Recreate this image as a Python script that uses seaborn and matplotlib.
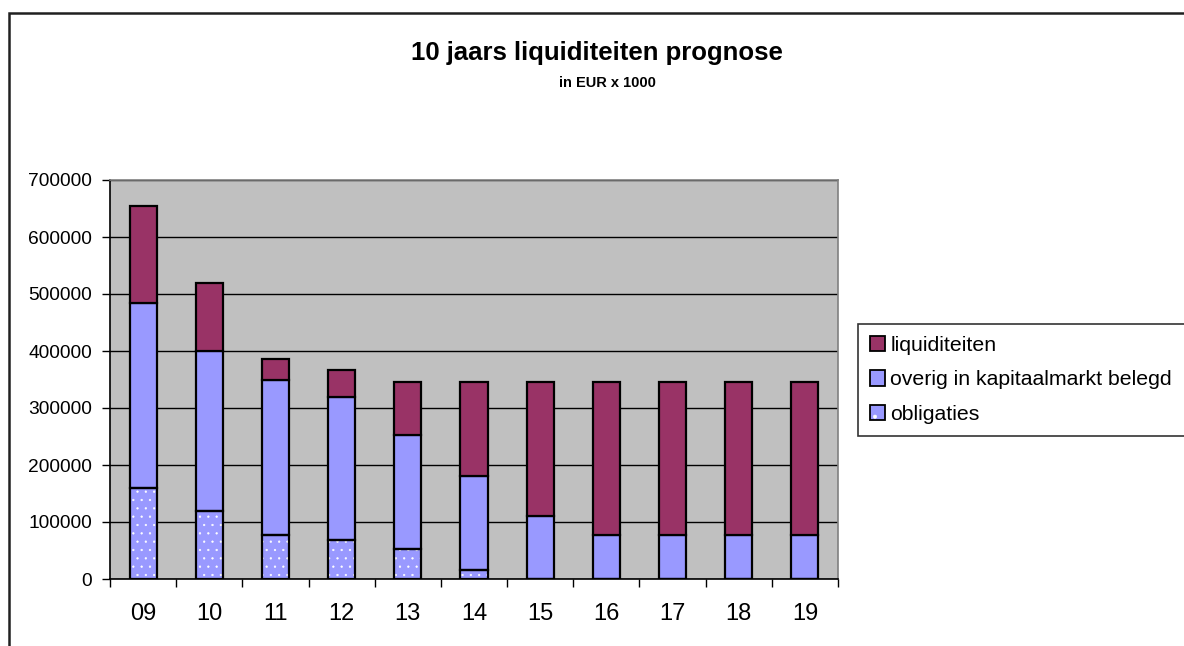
import matplotlib
matplotlib.use("Agg")
import numpy as np
import matplotlib.pyplot as plt
import seaborn as sns
from matplotlib.patches import Patch, Rectangle

# data (EUR x 1000)
jaren = ["09", "10", "11", "12", "13", "14", "15", "16", "17", "18", "19"]
obligaties = [160000, 120000, 78000, 69000, 52000, 15000, 0, 0, 0, 0, 0]
overig = [325000, 280000, 272000, 250000, 201000, 165000, 110000, 78000, 78000, 78000, 78000]
liquiditeiten = [170000, 120000, 36000, 47000, 92000, 165000, 235000, 267000, 267000, 267000, 267000]

kleur_liq = "#993366"
kleur_blauw = "#9999FF"

sns.set_style("white")
plt.rcParams["font.family"] = ["Liberation Sans", "DejaVu Sans"]
plt.rcParams["hatch.linewidth"] = 0.4
plt.rcParams["text.color"] = "black"
plt.rcParams["xtick.color"] = "black"
plt.rcParams["ytick.color"] = "black"

fig = plt.figure(figsize=(11.84, 6.46), dpi=100)
ax = fig.add_axes([110 / 1184, 1 - 579 / 646, 728 / 1184, 399 / 646])
ax.set_facecolor("#C0C0C0")

bottom_ov = np.array(obligaties)
bottom_liq = bottom_ov + np.array(overig)
w = 0.41

# obligaties: dotted fill (white dots), then black outline on top
sns.barplot(x=jaren, y=obligaties, color=kleur_blauw, saturation=1, width=w,
            edgecolor="white", linewidth=0, hatch="..", ax=ax, zorder=3)
sns.barplot(x=jaren, y=obligaties, color="none", saturation=1, width=w,
            edgecolor="black", linewidth=1.6, fill=False, ax=ax, zorder=4)
sns.barplot(x=jaren, y=overig, bottom=bottom_ov, color=kleur_blauw, saturation=1,
            width=w, edgecolor="black", linewidth=1.6, ax=ax, zorder=3)
sns.barplot(x=jaren, y=liquiditeiten, bottom=bottom_liq, color=kleur_liq, saturation=1,
            width=w, edgecolor="black", linewidth=1.6, ax=ax, zorder=3)

ax.set_ylim(0, 700000)
ax.set_xlim(-0.5, len(jaren) - 0.5)
ax.set_yticks(np.arange(0, 700001, 100000))
ax.set_yticklabels([str(v) for v in range(0, 700001, 100000)], fontsize=13.8)
ax.yaxis.grid(True, color="black", linewidth=1)
ax.set_axisbelow(True)

# ticks between categories, labels at centres
ax.set_xticks(np.arange(-0.5, len(jaren)), labels=[""] * (len(jaren) + 1))
ax.set_xticks(np.arange(len(jaren)), labels=jaren, minor=True)
ax.tick_params(axis="x", which="major", direction="out", length=6, width=1, color="black", bottom=True)
ax.tick_params(axis="x", which="minor", length=0, labelsize=17, pad=17)
ax.tick_params(axis="y", direction="out", length=6, width=1, color="black", left=True, pad=7)
ax.set_xlabel("")
ax.set_ylabel("")

for s in ["top", "right"]:
    ax.spines[s].set_color("#808080")
    ax.spines[s].set_linewidth(1.2)
for s in ["left", "bottom"]:
    ax.spines[s].set_color("black")
    ax.spines[s].set_linewidth(1.2)

# outer chart frame (right and bottom fall outside the picture)
fig.patches.append(Rectangle((9 / 1184, -0.1), 1.2, 1 - 13 / 646 + 0.1, transform=fig.transFigure,
                             fill=False, edgecolor="#202020", linewidth=1.8, zorder=0))

fig.text(597 / 1184, 1 - 53 / 646, "10 jaars liquiditeiten prognose", ha="center", va="center",
         fontsize=18.5, fontweight="bold")
fig.text(607 / 1184, 1 - 83 / 646, "in EUR x 1000", ha="center", va="center",
         fontsize=10.5, fontweight="bold")

handles = [
    Patch(facecolor=kleur_liq, edgecolor="black", linewidth=1.3),
    Patch(facecolor=kleur_blauw, edgecolor="black", linewidth=1.3),
    (Patch(facecolor=kleur_blauw, edgecolor="white", linewidth=0, hatch="."),
     Patch(fill=False, edgecolor="black", linewidth=1.3)),
]
labels = ["liquiditeiten", "overig in kapitaalmarkt belegd", "obligaties"]
# legend box runs past the right edge of the picture, as in the reference
leg = fig.legend(handles, labels, loc="upper left", mode="expand",
                 bbox_to_anchor=(858 / 1184, 1 - 433 / 646, 0.3, 109 / 646),
                 fontsize=15.3, frameon=True, fancybox=False, handlelength=0.72, handleheight=0.72,
                 handletextpad=0.25, labelspacing=0.74, borderpad=0.55, borderaxespad=0)
leg.get_frame().set_edgecolor("black")
leg.get_frame().set_linewidth(1.2)

fig.savefig("out.png", dpi=100)
